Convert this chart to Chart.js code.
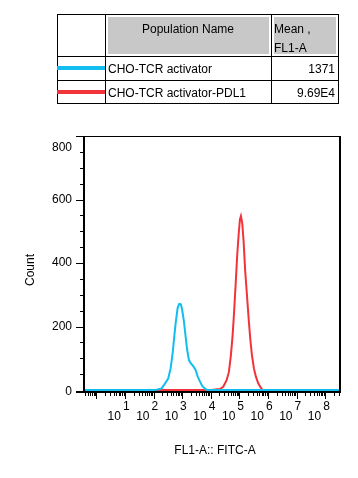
<!DOCTYPE html>
<html>
<head>
<meta charset="utf-8">
<script src="https://cdn.jsdelivr.net/npm/chart.js@4.4.1/dist/chart.umd.min.js"></script>
<style>
  html, body { margin: 0; padding: 0; background: #fff; }
  body { width: 358px; height: 478px; position: relative; overflow: hidden;
         font-family: 'Liberation Sans', Arial, sans-serif; font-size: 12px; color: #000; }
  #c { position: absolute; left: 0; top: 0; }
  .cell { position: absolute; box-sizing: border-box; }
  .gray { background: #C8C8C8; box-shadow: inset 0 0 0 2px #fff; }
  .txt { position: absolute; white-space: nowrap; line-height: 14px; }
  .bar { position: absolute; height: 4px; }
</style>
</head>
<body>
<canvas id="c" width="358" height="478"></canvas>
<div id="tbl"></div>
<script>
// ---- data ----
const seriesNames = ['CHO-TCR activator', 'CHO-TCR activator-PDL1'];
const seriesMeans = ['1371', '9.69E4'];
const seriesColors = ['#12BEF0', '#F2343A'];
const headerCols = ['Population Name', 'Mean ,\nFL1-A'];

// x values are log10(FL1-A)
const blueX = [-0.43, 2.00, 2.108, 2.283, 2.399, 2.514, 2.598, 2.668, 2.713, 2.773, 2.843, 2.899, 2.958, 3.003, 3.063, 3.122, 3.178, 3.238, 3.308, 3.388, 3.472, 3.542, 3.622, 3.703, 3.797, 3.878, 8.52];
const blueY = [0, 0, 1, 5, 20, 36, 68, 115, 157, 210, 258, 271, 270, 252, 216, 169, 126, 94, 84, 75, 63, 43, 27, 13, 4, 0, 0];
const redX = [-0.43, 4.0, 4.112, 4.217, 4.322, 4.437, 4.556, 4.636, 4.706, 4.766, 4.811, 4.871, 4.927, 4.976, 5.021, 5.056, 5.101, 5.150, 5.206, 5.266, 5.325, 5.381, 5.441, 5.510, 5.580, 5.661, 5.745, 5.815, 8.52];
const redY = [0, 0, 1, 2, 3, 10, 31, 57, 110, 173, 236, 331, 426, 489, 537, 548, 526, 468, 374, 300, 226, 163, 110, 68, 42, 21, 8, 0, 0];

const xDecades = [1, 2, 3, 4, 5, 6, 7, 8];
const yTickLabels = [0, 200, 400, 600, 800];
const xTitle = 'FL1-A:: FITC-A';
const yTitle = 'Count';

// ---- legend table (HTML) ----
(function buildTable() {
  const t = document.getElementById('tbl');
  function add(cls, l, tp, w, h, style) {
    const d = document.createElement('div');
    d.className = cls;
    d.style.left = l + 'px'; d.style.top = tp + 'px';
    if (w != null) d.style.width = w + 'px';
    if (h != null) d.style.height = h + 'px';
    if (style) Object.assign(d.style, style);
    t.appendChild(d);
    return d;
  }
  const X0 = 57, X1 = 105, X2 = 271, X3 = 338;
  const Y0 = 14, Y1 = 56, Y2 = 80, Y3 = 103;
  add('cell gray', X1 + 1, Y0 + 1, X2 - X1 - 1, Y1 - Y0 - 1);
  add('cell gray', X2 + 1, Y0 + 1, X3 - X2 - 1, Y1 - Y0 - 1);
  const hl = [Y0, Y1, Y2, Y3];
  hl.forEach(y => add('cell', X0, y, X3 - X0 + 1, 1, { background: '#000' }));
  const vl = [X0, X1, X2, X3];
  vl.forEach(x => add('cell', x, Y0, 1, Y3 - Y0 + 1, { background: '#000' }));
  const h1 = add('txt', X1, Y0 + 8, X2 - X1, null, { textAlign: 'center' });
  h1.textContent = headerCols[0];
  const parts = headerCols[1].split('\n');
  const h2 = add('txt', X2 + 3, Y0 + 8, null, null);
  h2.textContent = parts[0];
  const h3 = add('txt', X2 + 3, Y0 + 27, null, null);
  h3.textContent = parts[1];
  const rowTops = [Y1, Y2];
  const rowBots = [Y2, Y3];
  seriesNames.forEach((nm, i) => {
    const mid = (rowTops[i] + rowBots[i]) / 2;
    add('bar', X0, Math.round(mid - 2), X1 - X0, null, { background: seriesColors[i] });
    const a = add('txt', X1 + 3, Math.round(mid - 6), null, null);
    a.textContent = nm;
    const b = add('txt', X2, Math.round(mid - 6), X3 - X2 - 3, null, { textAlign: 'right' });
    b.textContent = seriesMeans[i];
  });
})();

// ---- chart ----
const FONT = "'Liberation Sans', Arial, sans-serif";
const frame = {
  id: 'frame',
  afterDraw(chart) {
    const { ctx, chartArea: a, scales } = chart;
    const xs = scales.x, ys = scales.y;
    ctx.save();
    ctx.strokeStyle = '#000';
    ctx.fillStyle = '#000';
    ctx.lineWidth = 1;
    ctx.beginPath(); ctx.moveTo(a.left - 8, a.top + 0.5); ctx.lineTo(a.right, a.top + 0.5); ctx.stroke();
    ctx.lineWidth = 2;
    ctx.beginPath(); ctx.moveTo(a.left, a.top); ctx.lineTo(a.left, a.bottom + 3); ctx.stroke();
    ctx.beginPath(); ctx.moveTo(a.right, a.top); ctx.lineTo(a.right, a.bottom + 3); ctx.stroke();
    ctx.beginPath(); ctx.moveTo(a.left - 8, a.bottom + 2); ctx.lineTo(a.right + 1, a.bottom + 2); ctx.stroke();
    ctx.lineWidth = 1;
    for (let v = 50; v < 800; v += 50) {
      const yy = Math.round(ys.getPixelForValue(v)) + 0.5;
      const major = v % 200 === 0;
      ctx.beginPath(); ctx.moveTo(a.left - (major ? 8 : 4), yy); ctx.lineTo(a.left, yy); ctx.stroke();
    }
    ctx.font = '12px ' + FONT;
    ctx.textAlign = 'right';
    ctx.textBaseline = 'middle';
    yTickLabels.forEach(v => {
      let yy = ys.getPixelForValue(v);
      if (v === 0) yy = a.bottom + 2;
      if (v === 800) yy = a.top + 12;
      ctx.fillText(String(v), a.left - 12, yy);
    });
    for (let n = -1; n <= 9; n++) {
      for (let k = 1; k <= 9; k++) {
        const v = n + Math.log10(k);
        if (v < xs.min || v > xs.max) continue;
        const px = Math.round(xs.getPixelForValue(v)) + 0.5;
        const len = k === 1 ? 6 : 3;
        ctx.beginPath(); ctx.moveTo(px, a.bottom + 3); ctx.lineTo(px, a.bottom + 3 + len); ctx.stroke();
      }
    }
    ctx.textBaseline = 'alphabetic';
    xDecades.forEach(e => {
      const px = xs.getPixelForValue(e);
      ctx.font = '12px ' + FONT;
      ctx.textAlign = 'right';
      ctx.fillText('10', px - 4, 420);
      ctx.font = '12px ' + FONT;
      ctx.textAlign = 'left';
      ctx.fillText(String(e), px - 2, 410);
    });
    ctx.font = '12px ' + FONT;
    ctx.textAlign = 'center';
    ctx.textBaseline = 'middle';
    ctx.fillText(xTitle, 215, 451);
    ctx.translate(31, 270);
    ctx.rotate(-Math.PI / 2);
    ctx.fillText(yTitle, 0, 0);
    ctx.restore();
  }
};

const toPts = (xs, ys) => xs.map((x, i) => ({ x, y: ys[i] }));

new Chart(document.getElementById('c'), {
  type: 'line',
  data: {
    datasets: [
      { label: seriesNames[0], data: toPts(blueX, blueY), borderColor: seriesColors[0], borderWidth: 2, pointRadius: 0, fill: false, tension: 0, clip: 4 },
      { label: seriesNames[1], data: toPts(redX, redY), borderColor: seriesColors[1], borderWidth: 2, pointRadius: 0, fill: false, tension: 0, clip: 4 }
    ]
  },
  options: {
    responsive: false,
    animation: false,
    events: [],
    layout: { padding: { top: 136, right: 18, left: 0, bottom: 0 } },
    plugins: { legend: { display: false }, tooltip: { enabled: false } },
    scales: {
      x: {
        type: 'linear', min: -0.43, max: 8.52,
        ticks: { display: false }, grid: { display: false }, border: { display: false },
        afterFit(s) { s.height = 478 - 390; }
      },
      y: {
        type: 'linear', min: 0, max: 800,
        ticks: { display: false }, grid: { display: false }, border: { display: false },
        afterFit(s) { s.width = 84; }
      }
    }
  },
  plugins: [frame]
});
</script>
</body>
</html>
